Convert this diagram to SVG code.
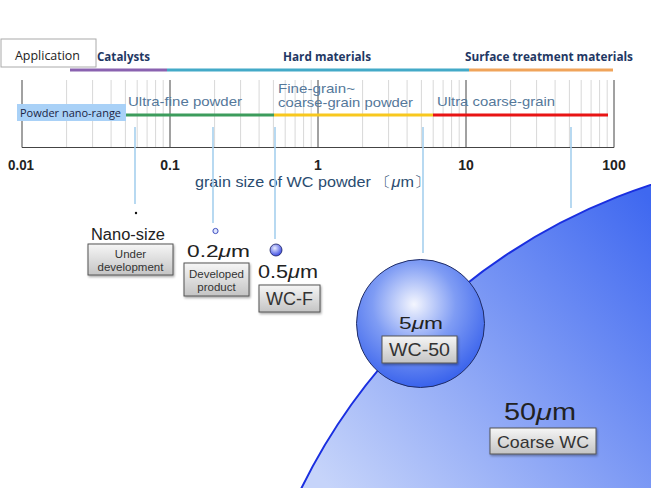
<svg xmlns="http://www.w3.org/2000/svg" width="651" height="488" viewBox="0 0 651 488">
<defs>
<linearGradient id="btn" x1="0" y1="0" x2="0" y2="1"><stop offset="0" stop-color="#f6f6f6"/><stop offset="1" stop-color="#c4c4c4"/></linearGradient>
<linearGradient id="big" gradientUnits="userSpaceOnUse" x1="330" y1="488" x2="651" y2="200"><stop offset="0" stop-color="#c6d4fa"/><stop offset="1" stop-color="#3f68f0"/></linearGradient>
<radialGradient id="mid" cx="0.45" cy="0.35" r="0.65"><stop offset="0" stop-color="#f4f6fe"/><stop offset="0.5" stop-color="#7f9cf4"/><stop offset="1" stop-color="#3a63ec"/></radialGradient>
<radialGradient id="small" cx="0.4" cy="0.35" r="0.7"><stop offset="0" stop-color="#e8ecff"/><stop offset="1" stop-color="#3040e0"/></radialGradient>
<filter id="sh" x="-10%" y="-10%" width="130%" height="140%"><feDropShadow dx="1" dy="1.5" stdDeviation="1" flood-color="#000" flood-opacity="0.35"/></filter>
</defs>
<style>
.minor{stroke:#d8d8d8;stroke-width:1}
.major{stroke:#444;stroke-width:1}
.lead{stroke:#a6d0ee;stroke-width:1.6}
.app{font-family:"Open Sans","Liberation Sans",sans-serif;font-weight:bold;font-size:12.5px;fill:#1f3864}
.tick{font-family:"Liberation Sans",sans-serif;font-weight:bold;font-size:14px;fill:#222}
.rng{font-family:"Liberation Sans",sans-serif;font-size:13.5px;fill:#55789a}
.jp{font-family:"Liberation Sans",sans-serif;fill:#222}
.mu{font-style:italic}
.btnt{font-family:"Liberation Sans",sans-serif;fill:#333;text-anchor:middle}
.btn{fill:url(#btn);stroke:#555;stroke-width:1;filter:url(#sh)}
</style>
<rect width="651" height="488" fill="#fff"/>

<g id="coarse-particle">
<circle cx="837" cy="752" r="597" fill="url(#big)" stroke="#1a2fe0" stroke-width="2"/>
</g>

<g id="application">
<rect x="1" y="39" width="95" height="28" fill="#fff" stroke="#aaa"/>
<text x="15" y="60" textLength="65" lengthAdjust="spacingAndGlyphs" style="font-family:'Open Sans','Liberation Sans',sans-serif;font-size:13px;fill:#222">Application</text>
</g>
<g id="app-labels">
<text class="app" x="97" y="61" textLength="53" lengthAdjust="spacingAndGlyphs">Catalysts</text>
<text class="app" x="283" y="61" textLength="88" lengthAdjust="spacingAndGlyphs">Hard materials</text>
<text class="app" x="465" y="61" textLength="168" lengthAdjust="spacingAndGlyphs">Surface treatment materials</text>
<line x1="70" y1="70" x2="167" y2="70" stroke="#8a62b0" stroke-width="3"/>
<line x1="167" y1="70" x2="469" y2="70" stroke="#43aac8" stroke-width="3"/>
<line x1="469" y1="70" x2="613" y2="70" stroke="#f0a45a" stroke-width="3"/>
</g>

<g id="axis">
<g class="minor">
<path d="M66.6 80V147M92.6 80V147M111.1 80V147M125.4 80V147M137.2 80V147M147.1 80V147M155.6 80V147M163.2 80V147"/>
<path d="M214.6 80V147M240.6 80V147M259.1 80V147M273.4 80V147M285.2 80V147M295.1 80V147M303.6 80V147M311.2 80V147"/>
<path d="M362.6 80V147M388.6 80V147M407.1 80V147M421.4 80V147M433.2 80V147M443.1 80V147M451.6 80V147M459.2 80V147"/>
<path d="M510.6 80V147M536.6 80V147M555.1 80V147M569.4 80V147M581.2 80V147M591.1 80V147M599.6 80V147M607.2 80V147"/>
</g>
<g class="major">
<path d="M22 80V147.5M170 80V147M318 80V147M466 80V147M614 80V147.5M22 147.5H614"/>
</g>
<text class="tick" x="8" y="170" textLength="26" lengthAdjust="spacingAndGlyphs">0.01</text>
<text class="tick" x="170" y="170" text-anchor="middle">0.1</text>
<text class="tick" x="318" y="170" text-anchor="middle">1</text>
<text class="tick" x="466" y="170" text-anchor="middle">10</text>
<text class="tick" x="614" y="170" text-anchor="middle">100</text>
<text x="195" y="187" textLength="235" lengthAdjust="spacingAndGlyphs" style="font-family:'Liberation Sans',sans-serif;font-size:15px;fill:#2a4c70">grain size of WC powder 〔<tspan class="mu">μ</tspan>m〕</text>
</g>

<g id="ranges">
<rect x="17" y="104" width="109" height="17" fill="#a9d1f7"/>
<text x="20" y="117" textLength="101" lengthAdjust="spacingAndGlyphs" style="font-family:'Open Sans','Liberation Sans',sans-serif;font-size:11.5px;fill:#1a2444">Powder nano-range</text>
<line x1="126" y1="115" x2="274" y2="115" stroke="#3c9c5c" stroke-width="3"/>
<line x1="274" y1="115" x2="433" y2="115" stroke="#f8c81e" stroke-width="3"/>
<line x1="433" y1="115" x2="608" y2="115" stroke="#e81414" stroke-width="3"/>
<text class="rng" x="128" y="106" textLength="114" lengthAdjust="spacingAndGlyphs">Ultra-fine powder</text>
<text class="rng" x="278" y="93" textLength="77" lengthAdjust="spacingAndGlyphs">Fine-grain~</text>
<text class="rng" x="278" y="107" textLength="135" lengthAdjust="spacingAndGlyphs">coarse-grain powder</text>
<text class="rng" x="437" y="106" textLength="118" lengthAdjust="spacingAndGlyphs">Ultra coarse-grain</text>
</g>

<g id="connectors">
<line class="lead" x1="135" y1="127" x2="135" y2="204"/>
<line class="lead" x1="213" y1="127" x2="213" y2="223"/>
<line class="lead" x1="275" y1="127" x2="275" y2="239"/>
<line class="lead" x1="423" y1="127" x2="423" y2="253"/>
<line class="lead" x1="571" y1="127" x2="571" y2="208"/>
</g>

<g id="nano">
<circle cx="136" cy="213" r="1.2" fill="#111"/>
<text class="jp" x="91" y="240" font-size="16" textLength="74" lengthAdjust="spacingAndGlyphs">Nano-size</text>
<rect class="btn" x="88" y="244" width="85" height="31"/>
<text class="btnt" x="130.5" y="258" font-size="11.5">Under</text>
<text class="btnt" x="130.5" y="271" font-size="11.5">development</text>
</g>

<g id="p02">
<circle cx="215.5" cy="231" r="2.6" fill="#dfe6ff" stroke="#4050c0" stroke-width="1"/>
<text class="jp" x="187" y="257" font-size="17" textLength="63" lengthAdjust="spacingAndGlyphs">0.2<tspan class="mu">μ</tspan>m</text>
<rect class="btn" x="184" y="263" width="65" height="33"/>
<text class="btnt" x="216.5" y="278" font-size="11.5">Developed</text>
<text class="btnt" x="216.5" y="291" font-size="11.5">product</text>
</g>

<g id="p05">
<circle cx="276" cy="250" r="6" fill="url(#small)" stroke="#1a2060" stroke-width="0.8"/>
<text class="jp" x="258" y="278" font-size="18" textLength="60" lengthAdjust="spacingAndGlyphs">0.5<tspan class="mu">μ</tspan>m</text>
<rect class="btn" x="259" y="285" width="61" height="27"/>
<text class="btnt" x="289.5" y="305" font-size="18">WC-F</text>
</g>

<g id="p5">
<circle cx="420.5" cy="323.5" r="64" fill="url(#mid)" stroke="#1f2c66" stroke-width="1"/>
<text class="jp" x="399" y="329" font-size="16" textLength="44" lengthAdjust="spacingAndGlyphs">5<tspan class="mu">μ</tspan>m</text>
<rect class="btn" x="382" y="336" width="75" height="27"/>
<text class="btnt" x="419.5" y="356" font-size="18" textLength="61" lengthAdjust="spacingAndGlyphs">WC-50</text>
</g>

<g id="p50">
<text class="jp" x="504" y="420" font-size="23" textLength="72" lengthAdjust="spacingAndGlyphs">50<tspan class="mu">μ</tspan>m</text>
<rect class="btn" x="490" y="428" width="106" height="26"/>
<text class="btnt" x="543" y="448" font-size="17" textLength="92" lengthAdjust="spacingAndGlyphs">Coarse WC</text>
</g>
</svg>
